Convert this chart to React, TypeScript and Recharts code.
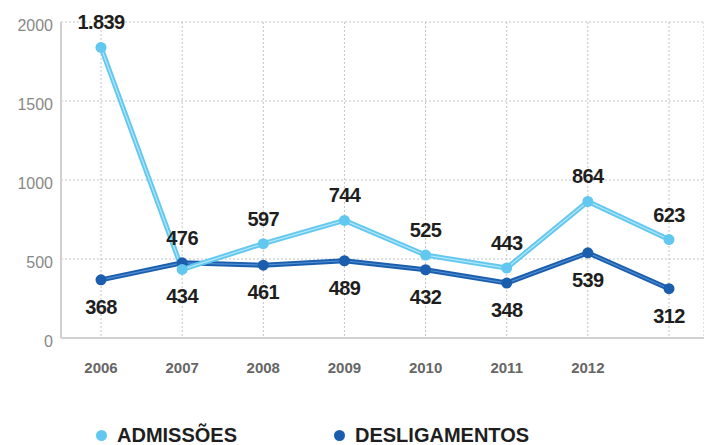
import { LineChart, Line, XAxis, YAxis, CartesianGrid, Legend } from "recharts";

const years = ["2006", "2007", "2008", "2009", "2010", "2011", "2012", "2013"];
const admissoes = [1839, 434, 597, 744, 525, 443, 864, 623];
const desligamentos = [368, 476, 461, 489, 432, 348, 539, 312];
const yTicks = [0, 500, 1000, 1500, 2000];

const LIGHT = "#62c8f0";
const LIGHT_HI = "#b5e6f9";
const DARK = "#1b5ead";
const DARK_HI = "#4f8fd3";
const FONT = "'Liberation Sans', Arial, sans-serif";

const data = years.map((y, i) => ({
  year: y,
  adm: admissoes[i],
  des: desligamentos[i],
}));

const fmt = (v: number) => v.toLocaleString("pt-BR");

function makeLabel(own: number[], other: number[]) {
  return (props: any) => {
    const { x, y, index } = props;
    const above = own[index] >= other[index];
    return (
      <text
        x={x}
        y={above ? y - 25 : y + 27}
        textAnchor="middle"
        dominantBaseline="central"
        fontFamily={FONT}
        fontWeight="bold"
        fontSize={20}
        fill="#1e1e1e"
        letterSpacing={-0.6}
      >
        {fmt(own[index])}
      </text>
    );
  };
}

const XTick = (props: any) => {
  const { x, y, payload } = props;
  if (payload.value === "2013") return null;
  return (
    <text
      x={x}
      y={y + 27}
      textAnchor="middle"
      fontFamily={FONT}
      fontWeight="bold"
      fontSize={15}
      fill="#666"
    >
      {payload.value}
    </text>
  );
};

const YTick = (props: any) => {
  const { x, y, payload } = props;
  return (
    <text
      x={x}
      y={y + 9}
      textAnchor="end"
      fontFamily={FONT}
      fontSize={16}
      fill="#888"
    >
      {payload.value}
    </text>
  );
};

const LegendContent = () => (
  <div
    style={{
      position: "relative",
      height: 26,
      fontFamily: FONT,
      fontWeight: "bold",
      fontSize: 20,
      lineHeight: "16px",
      color: "#1e1e1e",
    }}
  >
    {[
      { name: "ADMISSÕES", color: LIGHT, left: 96 },
      { name: "DESLIGAMENTOS", color: DARK, left: 334 },
    ].map((it) => (
      <div
        key={it.name}
        style={{ position: "absolute", left: it.left, top: 8, display: "flex", alignItems: "center" }}
      >
        <span
          style={{
            display: "inline-block",
            width: 11,
            height: 11,
            borderRadius: "50%",
            background: it.color,
            marginRight: 10,
          }}
        />
        <span>{it.name}</span>
      </div>
    ))}
  </div>
);

export default function App() {
  return (
    <div style={{ position: "absolute", left: 0, top: 0, background: "#fff" }}>
      <LineChart width={704} height={445} data={data} margin={{ top: 22, right: 0, left: 0, bottom: 0 }}>
        <CartesianGrid stroke="#c4c4c4" strokeDasharray="2 2" />
        <XAxis
          dataKey="year"
          padding={{ left: 40, right: 35 }}
          height={81}
          tickLine={false}
          axisLine={{ stroke: "#d0d0d0", strokeWidth: 2 }}
          tick={<XTick />}
          interval={0}
        />
        <YAxis
          width={61}
          domain={[0, 2000]}
          ticks={yTicks}
          tickLine={false}
          axisLine={{ stroke: "#d0d0d0", strokeWidth: 2 }}
          tick={<YTick />}
        />
        <Legend verticalAlign="bottom" height={26} content={<LegendContent />} />
        <Line
          dataKey="des"
          stroke={DARK}
          strokeWidth={5}
          dot={{ r: 5.5, fill: DARK, stroke: DARK, strokeWidth: 0 }}
          isAnimationActive={false}
          legendType="none"
        />
        <Line
          dataKey="des"
          stroke={DARK_HI}
          strokeWidth={1.2}
          dot={false}
          isAnimationActive={false}
          label={makeLabel(desligamentos, admissoes)}
          legendType="none"
        />
        <Line
          dataKey="adm"
          stroke={LIGHT}
          strokeWidth={5}
          dot={{ r: 5.5, fill: LIGHT, stroke: LIGHT, strokeWidth: 0 }}
          isAnimationActive={false}
          legendType="none"
        />
        <Line
          dataKey="adm"
          stroke={LIGHT_HI}
          strokeWidth={1.2}
          dot={false}
          isAnimationActive={false}
          label={makeLabel(admissoes, desligamentos)}
          legendType="none"
        />
      </LineChart>
    </div>
  );
}
